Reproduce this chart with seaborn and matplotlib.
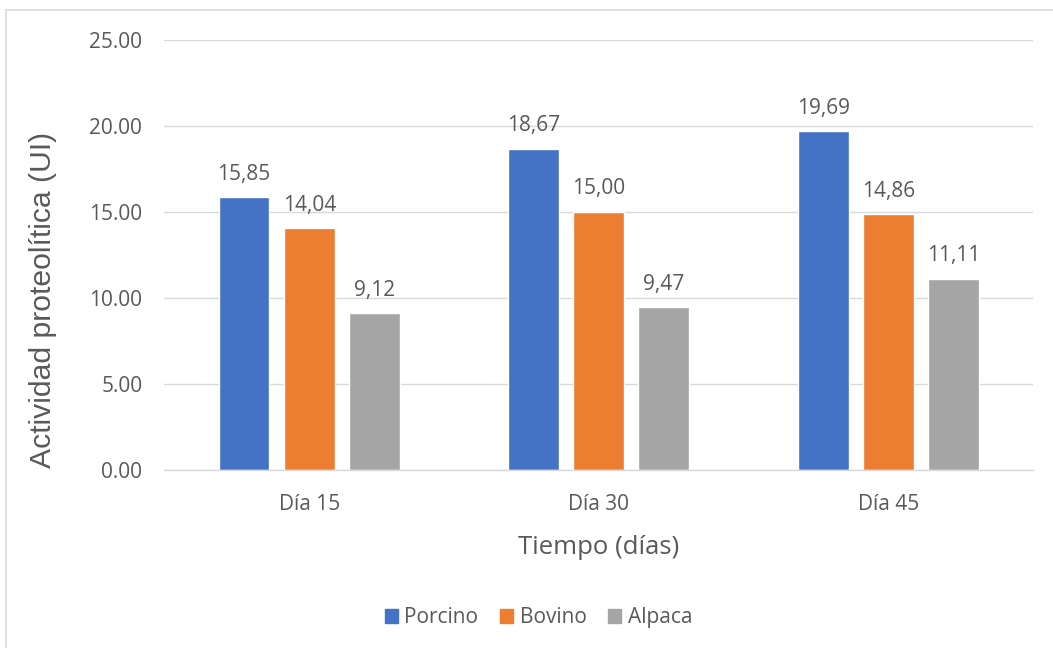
import matplotlib
matplotlib.use("Agg")
import matplotlib.pyplot as plt
from matplotlib.lines import Line2D
import seaborn as sns
import pandas as pd

# Data
dias = ["Día 15", "Día 30", "Día 45"]
series = ["Porcino", "Bovino", "Alpaca"]
porcino = [15.85, 18.67, 19.69]
bovino = [14.04, 15.00, 14.86]
alpaca = [9.12, 9.47, 11.11]
yticks = [0, 5, 10, 15, 20, 25]

colors = ["#4472C4", "#ED7D31", "#A5A5A5"]
text_color = "#595959"
grid_color = "#D9D9D9"

df = pd.DataFrame({
    "Tiempo": dias * 3,
    "Serie": [s for s in series for _ in dias],
    "Valor": porcino + bovino + alpaca,
})

sns.set_theme(style="white")
plt.rcParams["font.family"] = ["Open Sans", "DejaVu Sans"]

fig = plt.figure(figsize=(10.53, 6.48), dpi=100)
ax = fig.add_axes([0.1562, 0.2747, 0.8248, 0.6636])

sns.barplot(data=df, x="Tiempo", y="Valor", hue="Serie", order=dias,
            hue_order=series, palette=colors, width=0.675, gap=0.22,
            saturation=1, errorbar=None, ax=ax, legend=False)

# Value labels with comma decimals
for container in ax.containers:
    labels = [f"{bar.get_height():.2f}".replace(".", ",") for bar in container]
    ax.bar_label(container, labels=labels, padding=9, fontsize=15,
                 color=text_color)

ax.set_ylim(0, 25)
ax.set_xlim(-0.5, 2.5)
ax.set_yticks(yticks)
ax.set_yticklabels([f"{v:.2f}" for v in yticks], fontsize=15, color=text_color)
ax.tick_params(axis="x", labelsize=15, colors=text_color, length=0, pad=17)
ax.tick_params(axis="y", length=0, pad=16)
ax.yaxis.grid(True, color=grid_color, linewidth=1)
ax.set_axisbelow(True)
for side in ["top", "right", "left"]:
    ax.spines[side].set_visible(False)
ax.spines["bottom"].set_color(grid_color)
ax.spines["bottom"].set_linewidth(1)

ax.set_xlabel("Tiempo (días)", fontsize=18.5, color=text_color, labelpad=15)
ax.set_ylabel("Actividad proteolítica (UI)", fontsize=21.7, color=text_color,
              family=["Liberation Sans", "DejaVu Sans"])
ax.yaxis.set_label_coords(-0.124, 0.395)

# Legend
handles = [plt.Rectangle((0, 0), 1, 1, color=c) for c in colors]
fig.legend(handles, series, loc="center", bbox_to_anchor=(0.5114, 0.047),
           ncol=3, frameon=False, fontsize=15, handlelength=0.63,
           handleheight=0.63, handletextpad=0.3, columnspacing=1.05,
           labelcolor=text_color)

# Chart area border
W, H = 1053, 648
fig.add_artist(Line2D([6 / W, 6 / W], [1 - 10 / H, 0], color=grid_color,
                      linewidth=1.2, transform=fig.transFigure))
fig.add_artist(Line2D([6 / W, 1], [1 - 10 / H, 1 - 10 / H], color=grid_color,
                      linewidth=1.2, transform=fig.transFigure))

fig.savefig("out.png", dpi=100, facecolor="white")
